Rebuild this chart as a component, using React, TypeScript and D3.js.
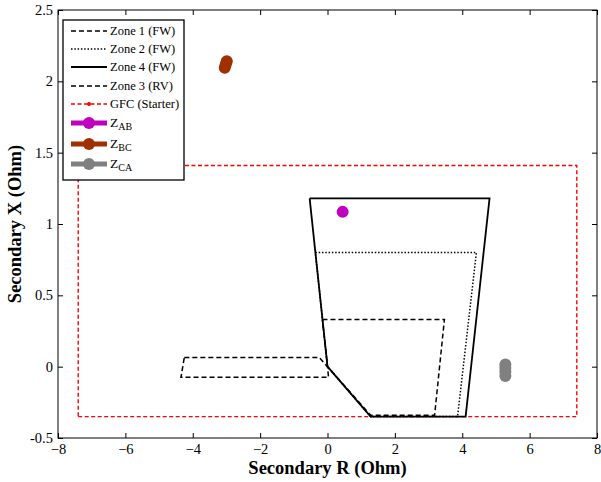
import React, { useEffect, useRef } from "react";
import * as d3 from "d3";

const xTicks = [-8, -6, -4, -2, 0, 2, 4, 6, 8];
const yTicks = [-0.5, 0, 0.5, 1, 1.5, 2, 2.5];

// zone characteristics (R, X) in secondary ohms
const zone1 = [[-0.15, 0.33], [3.47, 0.33], [3.18, -0.34], [1.28, -0.34], [0, 0], [-0.15, 0.33]];
const zone2 = [[-0.36, 0.8], [4.42, 0.8], [3.86, -0.35], [1.28, -0.35], [0, 0], [-0.36, 0.8]];
const zone4 = [[-0.53, 1.18], [4.81, 1.18], [4.1, -0.35], [1.28, -0.35], [0, 0], [-0.53, 1.18]];
const zone3 = [[-4.25, 0.065], [-0.25, 0.065], [0, 0], [0.03, -0.075], [-4.35, -0.075], [-4.25, 0.065]];
const gfc = [[-7.4, -0.35], [7.4, -0.35], [7.4, 1.41], [-7.4, 1.41], [-7.4, -0.35]];

const zAB = [[0.45, 1.085]];
const zBC = [[-3.05, 2.095], [-3.02, 2.12], [-2.99, 2.14]];
const zCA = [[5.28, 0.015], [5.28, -0.01], [5.28, -0.035], [5.28, -0.065]];

const legendItems = [
  { label: "Zone 1 (FW)", color: "#000", dash: "5,3", w: 1.5, marker: 0 },
  { label: "Zone 2 (FW)", color: "#000", dash: "1.5,1.8", w: 1.5, marker: 0 },
  { label: "Zone 4 (FW)", color: "#000", dash: null, w: 1.8, marker: 0 },
  { label: "Zone 3 (RV)", color: "#000", dash: "5,3", w: 1.5, marker: 0 },
  { label: "GFC (Starter)", color: "#ff0000", dash: "4,2.5", w: 1.4, marker: 2 },
  { label: "Z|AB", color: "#bf00bf", dash: null, w: 5, marker: 6 },
  { label: "Z|BC", color: "#a03000", dash: null, w: 5, marker: 6 },
  { label: "Z|CA", color: "#808080", dash: null, w: 5, marker: 6 },
];

const W = 601, H = 482;
const margin = { top: 10, right: 4, bottom: 44, left: 58 };
const FONT = "'Liberation Serif', serif";

const App = () => {
  const ref = useRef<SVGSVGElement>(null);

  useEffect(() => {
    const svg = d3.select(ref.current);
    svg.selectAll("*").remove();

    const x = d3.scaleLinear().domain([-8, 8]).range([margin.left, W - margin.right]);
    const y = d3.scaleLinear().domain([-0.5, 2.5]).range([H - margin.bottom, margin.top]);

    const line = d3.line<number[]>().x(d => x(d[0])).y(d => y(d[1]));

    // zones
    const drawPath = (pts: number[][], color: string, dash: string | null, w: number) => {
      const p = svg.append("path").attr("d", line(pts)).attr("fill", "none")
        .attr("stroke", color).attr("stroke-width", w);
      if (dash) p.attr("stroke-dasharray", dash);
    };
    drawPath(gfc, "#ff0000", "4,2.5", 1.4);
    drawPath(zone2, "#000", "1.5,1.8", 1.5);
    drawPath(zone1, "#000", "5,3", 1.5);
    drawPath(zone3, "#000", "5,3", 1.5);
    drawPath(zone4, "#000", null, 1.8);

    // impedance points
    const pts = (data: number[][], color: string) => {
      svg.append("g").selectAll("circle").data(data).enter().append("circle")
        .attr("cx", d => x(d[0])).attr("cy", d => y(d[1])).attr("r", 6).attr("fill", color);
    };
    pts(zAB, "#bf00bf");
    pts(zBC, "#a03000");
    pts(zCA, "#808080");

    // axes box
    const x0 = margin.left, x1 = W - margin.right, y0 = margin.top, y1 = H - margin.bottom;
    svg.append("rect").attr("x", x0).attr("y", y0).attr("width", x1 - x0).attr("height", y1 - y0)
      .attr("fill", "none").attr("stroke", "#000").attr("stroke-width", 1);

    const bottom = svg.append("g").attr("transform", `translate(0,${y1})`)
      .call(d3.axisBottom(x).tickValues(xTicks).tickSizeInner(-5).tickSizeOuter(0).tickPadding(6).tickFormat(d3.format("d")));
    const top = svg.append("g").attr("transform", `translate(0,${y0})`)
      .call(d3.axisTop(x).tickValues(xTicks).tickSizeInner(-5).tickSizeOuter(0).tickFormat(() => ""));
    const left = svg.append("g").attr("transform", `translate(${x0},0)`)
      .call(d3.axisLeft(y).tickValues(yTicks).tickSizeInner(-5).tickSizeOuter(0).tickPadding(5).tickFormat(d => String(d)));
    const right = svg.append("g").attr("transform", `translate(${x1},0)`)
      .call(d3.axisRight(y).tickValues(yTicks).tickSizeInner(-5).tickSizeOuter(0).tickFormat(() => ""));
    [bottom, top, left, right].forEach(g => {
      g.select(".domain").remove();
      g.selectAll("text").attr("font-family", FONT).attr("font-size", 14.5).attr("fill", "#000");
    });

    // legend
    const lg = svg.append("g");
    lg.append("rect").attr("x", 63).attr("y", 20).attr("width", 121).attr("height", 160)
      .attr("fill", "#fff").attr("stroke", "#000").attr("stroke-width", 1.3);
    const ly = [31, 49, 67, 86, 104, 123, 144, 164];
    legendItems.forEach((it, i) => {
      const yy = ly[i];
      const l = lg.append("line").attr("x1", 71).attr("x2", 107).attr("y1", yy).attr("y2", yy)
        .attr("stroke", it.color).attr("stroke-width", it.w);
      if (it.dash) l.attr("stroke-dasharray", it.dash);
      if (it.marker) lg.append("circle").attr("cx", 89).attr("cy", yy).attr("r", it.marker).attr("fill", it.color);
      const t = lg.append("text").attr("x", 110).attr("y", yy + 4).attr("font-family", FONT)
        .attr("font-size", 12.5).attr("fill", "#000");
      if (it.label.includes("|")) {
        const [a, b] = it.label.split("|");
        t.append("tspan").text(a).attr("font-size", 13.5);
        t.append("tspan").text(b).attr("font-size", 10).attr("dy", 3);
      } else {
        t.text(it.label);
      }
    });

    // axis titles
    svg.append("text").attr("x", (x0 + x1) / 2).attr("y", 474).attr("text-anchor", "middle")
      .attr("font-family", FONT).attr("font-weight", "bold").attr("font-size", 18.5).text("Secondary R (Ohm)");
    svg.append("text").attr("transform", `translate(21,${(y0 + y1) / 2}) rotate(-90)`).attr("text-anchor", "middle")
      .attr("font-family", FONT).attr("font-weight", "bold").attr("font-size", 18.5).text("Secondary X (Ohm)");
  }, []);

  return (
    <svg ref={ref} width={W} height={H} style={{ position: "absolute", left: 0, top: 0, background: "#fff" }} />
  );
};

export default App;
